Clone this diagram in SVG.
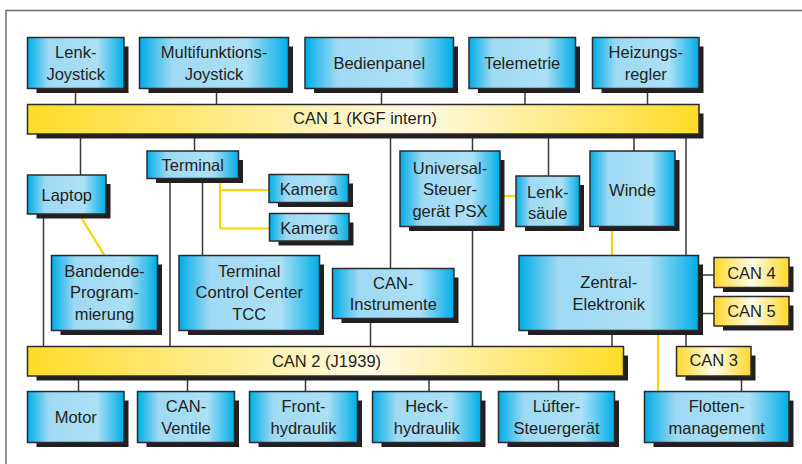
<svg xmlns="http://www.w3.org/2000/svg" width="802" height="464" viewBox="0 0 802 464">
<defs>
<linearGradient id="blue" x1="0" y1="0" x2="1" y2="0">
<stop offset="0" stop-color="#00ade6"/>
<stop offset="0.22" stop-color="#9fd9f3"/>
<stop offset="0.72" stop-color="#ace0f6"/>
<stop offset="1" stop-color="#00ade6"/>
</linearGradient>
<linearGradient id="bus" x1="0" y1="0" x2="1" y2="0">
<stop offset="0" stop-color="#ffdc28"/>
<stop offset="0.58" stop-color="#fffae6"/>
<stop offset="1" stop-color="#ffdc28"/>
</linearGradient>
<linearGradient id="can" x1="0" y1="0" x2="1" y2="0">
<stop offset="0" stop-color="#ffd92a"/>
<stop offset="0.5" stop-color="#fffbe8"/>
<stop offset="1" stop-color="#ffd92a"/>
</linearGradient>
<style>
.box{fill:url(#blue);stroke:#2b2b2b;stroke-width:1.5}
.bus{fill:url(#bus);stroke:#2b2b2b;stroke-width:1.5}
.can{fill:url(#can);stroke:#2b2b2b;stroke-width:1.5}
.sh{fill:#231f20}
.ln{stroke:#3a3a3a;stroke-width:1.5;fill:none}
.yl{stroke:#ffd200;stroke-width:2.2;fill:none}
.fr{stroke:#6d6d6d;stroke-width:1.5;fill:none}
text{font-family:"Liberation Sans",Arial,sans-serif;font-size:16.5px;fill:#231f20;text-anchor:middle}
</style>
</defs>
<rect width="802" height="464" fill="#ffffff"/>
<path class="fr" d="M6,464 V10.5 H802"/>

<g id="connectors">
<path class="ln" d="M75.5,88.5V104.5M216.5,88.5V104.5M381.5,88.5V104.5M525,88.5V104.5M647.5,88.5V104.5"/>
<path class="ln" d="M80.5,134V175M194.5,134V151M390.5,134V268.5M472.5,134V151M548.5,134V176M634,134V151M686,134V255.5"/>
<path class="ln" d="M43.5,214V346.5M170,178.5V346.5M202.5,178.5V255.5M370.5,318.5V346.5M472.5,226.5V346.5M612,330.5V346.5M686,330.5V346.5"/>
<path class="ln" d="M698.5,275H714M698.5,313.5H714M741.5,376V391.5"/>
<path class="ln" d="M78.5,376V391.5M187.5,376V391.5M305.5,376V391.5M429,376V391.5M558.5,376V391.5"/>
<path class="yl" d="M220,178.5V228.5M220,190H269M220,228.5H269.5"/>
<path class="yl" d="M79,214L104.5,255.5"/>
<path class="yl" d="M500,196H516"/>
<path class="yl" d="M612,226.5V255.5"/>
<path class="yl" d="M658,330.5V391.5"/>
</g>

<g id="can1">
<rect class="sh" x="36.5" y="113.5" width="667" height="25"/>
<rect class="bus" x="27.5" y="104.5" width="671.5" height="29.5"/>
<text x="365" y="124">CAN 1 (KGF intern)</text>
</g>
<g id="can2">
<rect class="sh" x="36.5" y="355.5" width="591.5" height="25"/>
<rect class="bus" x="27.5" y="346.5" width="596" height="29.5"/>
<text x="326.5" y="366.5">CAN 2 (J1939)</text>
</g>

<g id="lenk-joystick">
<rect class="sh" x="36.5" y="46.5" width="92" height="46.5"/>
<rect class="box" x="27.5" y="37.5" width="96.5" height="51"/>
<text x="75.75" y="58.2">Lenk-</text><text x="75.75" y="79.8">Joystick</text>
</g>
<g id="multifunktions-joystick">
<rect class="sh" x="148.5" y="46.5" width="144.5" height="46.5"/>
<rect class="box" x="139.5" y="37.5" width="149" height="51"/>
<text x="214" y="58.2">Multifunktions-</text><text x="214" y="79.8">Joystick</text>
</g>
<g id="bedienpanel">
<rect class="sh" x="314" y="46.5" width="144" height="46.5"/>
<rect class="box" x="305" y="37.5" width="148.5" height="51"/>
<text x="379.25" y="69">Bedienpanel</text>
</g>
<g id="telemetrie">
<rect class="sh" x="478" y="46.5" width="102" height="46.5"/>
<rect class="box" x="469" y="37.5" width="106.5" height="51"/>
<text x="522.25" y="69">Telemetrie</text>
</g>
<g id="heizungsregler">
<rect class="sh" x="601.5" y="46.5" width="102" height="46.5"/>
<rect class="box" x="592.5" y="37.5" width="106.5" height="51"/>
<text x="645.75" y="58.2">Heizungs-</text><text x="645.75" y="79.8">regler</text>
</g>

<g id="terminal">
<rect class="sh" x="156" y="160" width="87" height="23"/>
<rect class="box" x="147" y="151" width="91.5" height="27.5"/>
<text x="192.75" y="171">Terminal</text>
</g>
<g id="laptop">
<rect class="sh" x="36.5" y="184" width="74" height="34.5"/>
<rect class="box" x="27.5" y="175" width="78.5" height="39"/>
<text x="66.75" y="200.5">Laptop</text>
</g>
<g id="kamera1">
<rect class="sh" x="278" y="183.5" width="75" height="23.5"/>
<rect class="box" x="269" y="174.5" width="79.5" height="28"/>
<text x="308.75" y="194.5">Kamera</text>
</g>
<g id="kamera2">
<rect class="sh" x="278.5" y="222.5" width="75" height="23"/>
<rect class="box" x="269.5" y="213.5" width="79.5" height="27.5"/>
<text x="309.25" y="233.5">Kamera</text>
</g>
<g id="universal-steuergeraet">
<rect class="sh" x="409" y="160" width="95.5" height="71"/>
<rect class="box" x="400" y="151" width="100" height="75.5"/>
<text x="450" y="173.5">Universal-</text><text x="450" y="195">Steuer-</text><text x="450" y="216.5">gerät PSX</text>
</g>
<g id="lenksaeule">
<rect class="sh" x="525" y="185" width="59" height="46"/>
<rect class="box" x="516" y="176" width="63.5" height="50.5"/>
<text x="547.75" y="197.5">Lenk-</text><text x="547.75" y="218.5">säule</text>
</g>
<g id="winde">
<rect class="sh" x="599" y="160" width="80.5" height="71"/>
<rect class="box" x="590" y="151" width="85" height="75.5"/>
<text x="632.5" y="195.5">Winde</text>
</g>
<g id="bandende-programmierung">
<rect class="sh" x="60.5" y="264.5" width="101.5" height="70.5"/>
<rect class="box" x="51.5" y="255.5" width="106" height="75"/>
<text x="104.5" y="276.5">Bandende-</text><text x="104.5" y="298">Program-</text><text x="104.5" y="319.5">mierung</text>
</g>
<g id="tcc">
<rect class="sh" x="188" y="264.5" width="136" height="70.5"/>
<rect class="box" x="179" y="255.5" width="140.5" height="75"/>
<text x="249.25" y="276.5">Terminal</text><text x="249.25" y="298">Control Center</text><text x="249.25" y="319.5">TCC</text>
</g>
<g id="can-instrumente">
<rect class="sh" x="341.5" y="277.5" width="117" height="45.5"/>
<rect class="box" x="332.5" y="268.5" width="121.5" height="50"/>
<text x="393.25" y="288.5">CAN-</text><text x="393.25" y="310">Instrumente</text>
</g>
<g id="zentral-elektronik">
<rect class="sh" x="528" y="264.5" width="175" height="70.5"/>
<rect class="box" x="519" y="255.5" width="179.5" height="75"/>
<text x="608.75" y="288">Zentral-</text><text x="608.75" y="309.5">Elektronik</text>
</g>
<g id="can4">
<rect class="sh" x="723" y="266.5" width="70.5" height="25.5"/>
<rect class="can" x="714" y="257.5" width="75" height="30"/>
<text x="751.5" y="278.5">CAN 4</text>
</g>
<g id="can5">
<rect class="sh" x="723" y="305.5" width="70.5" height="25"/>
<rect class="can" x="714" y="296.5" width="75" height="29.5"/>
<text x="751.5" y="317">CAN 5</text>
</g>
<g id="can3">
<rect class="sh" x="685.5" y="355.5" width="70" height="25"/>
<rect class="can" x="676.5" y="346.5" width="74.5" height="29.5"/>
<text x="713.75" y="366">CAN 3</text>
</g>

<g id="motor">
<rect class="sh" x="36.5" y="400.5" width="92" height="46.5"/>
<rect class="box" x="27.5" y="391.5" width="96.5" height="51"/>
<text x="75.75" y="423">Motor</text>
</g>
<g id="can-ventile">
<rect class="sh" x="146.5" y="400.5" width="92.5" height="46.5"/>
<rect class="box" x="137.5" y="391.5" width="97" height="51"/>
<text x="186" y="412">CAN-</text><text x="186" y="433.5">Ventile</text>
</g>
<g id="fronthydraulik">
<rect class="sh" x="258.5" y="400.5" width="103.5" height="46.5"/>
<rect class="box" x="249.5" y="391.5" width="108" height="51"/>
<text x="303.5" y="412">Front-</text><text x="303.5" y="433.5">hydraulik</text>
</g>
<g id="heckhydraulik">
<rect class="sh" x="381.5" y="400.5" width="104" height="46.5"/>
<rect class="box" x="372.5" y="391.5" width="108.5" height="51"/>
<text x="426.75" y="412">Heck-</text><text x="426.75" y="433.5">hydraulik</text>
</g>
<g id="luefter-steuergeraet">
<rect class="sh" x="507.5" y="400.5" width="111.5" height="46.5"/>
<rect class="box" x="498.5" y="391.5" width="116" height="51"/>
<text x="556.5" y="412">Lüfter-</text><text x="556.5" y="433.5">Steuergerät</text>
</g>
<g id="flottenmanagement">
<rect class="sh" x="653.5" y="400.5" width="140" height="46.5"/>
<rect class="box" x="644.5" y="391.5" width="144.5" height="51"/>
<text x="716.75" y="412">Flotten-</text><text x="716.75" y="433.5">management</text>
</g>
</svg>
